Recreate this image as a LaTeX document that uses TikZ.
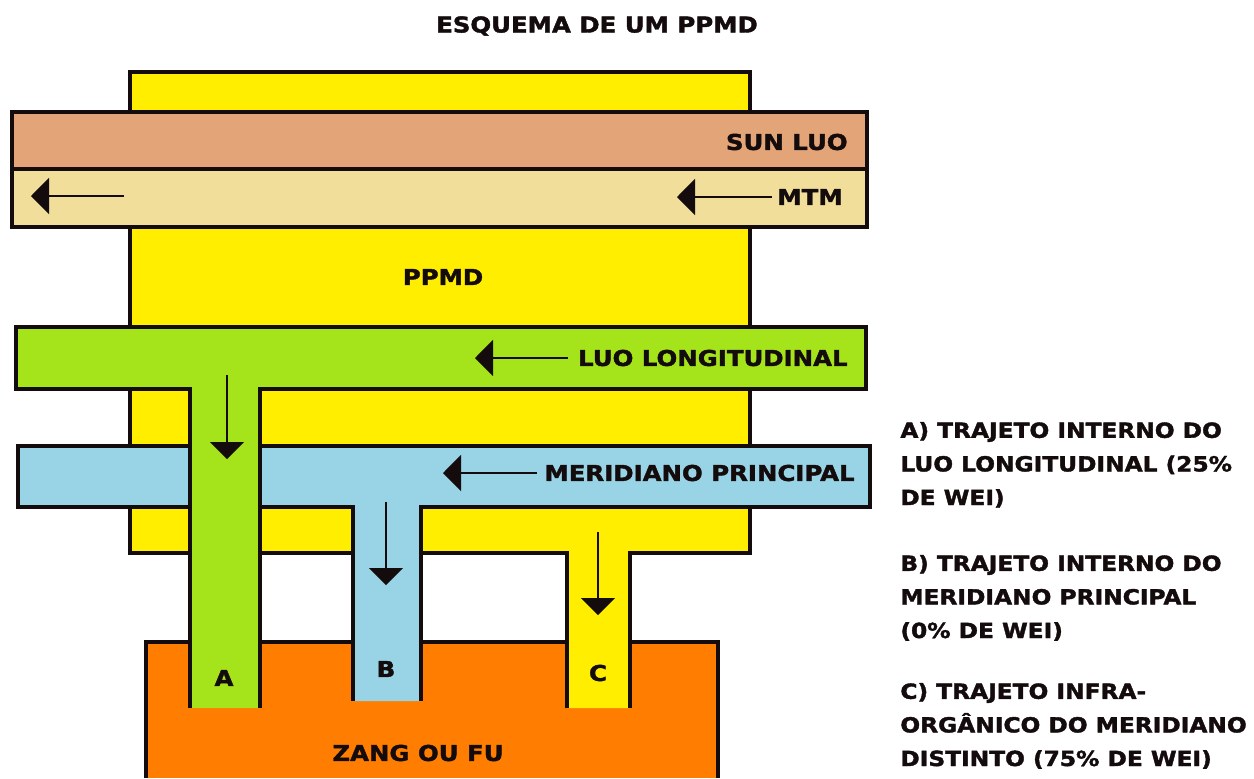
\documentclass[tikz,border=0pt]{standalone}
\usepackage{fontspec}
\setmainfont[FakeStretch=1.12, BoldFeatures={FakeBold=1.8}]{DejaVu Sans}
\usepackage{xcolor}
\definecolor{ppmdYellow}  {HTML}{FFEE00}
\definecolor{sunluoBack}  {HTML}{E3A577}
\definecolor{mtmBack}     {HTML}{F1DE9A}
\definecolor{luoGreen}    {HTML}{A5E31B}
\definecolor{mpBlue}      {HTML}{98D3E6}
\definecolor{zangOrange}  {HTML}{FF7D00}
\definecolor{borderInk}   {HTML}{140C0C}
\usetikzlibrary{arrows.meta}
\tikzset{
    outline/.style={line width=1.8pt, draw=borderInk, line join=miter},
    tag/.style={font=\bfseries\fontsize{10.9}{13}\selectfont, inner sep=0pt, text=borderInk},
    note/.style={tag, align=left, font=\bfseries\fontsize{10.4}{16.8}\selectfont},
    flowarrow/.style={-{Triangle[length=9pt, width=18pt]}, line width=0.8pt, borderInk},
    downarrow/.style={-{Triangle[length=8.5pt, width=17pt]}, line width=0.8pt, borderInk},
}

\begin{document}
\begin{tikzpicture}[x=0.5pt, y=-0.5pt]
    \useasboundingbox (0,0) rectangle (1254,778);
    % zang ou fu (open at the bottom)
    \fill[zangOrange] (146,642) rectangle (718,778);
    \draw[outline] (146,778) -- (146,642) -- (718,642) -- (718,778);
    % PPMD block with infra-organic path C
    \fill[ppmdYellow] (130,72) -- (750,72) -- (750,553) -- (630,553) -- (630,708)
        -- (567,708) -- (567,553) -- (130,553) -- cycle;
    \draw[outline] (567,708) -- (567,553) -- (130,553) -- (130,72) -- (750,72)
        -- (750,553) -- (630,553) -- (630,708);
    % meridiano principal with path B
    \fill[mpBlue] (18,446) -- (870,446) -- (870,507) -- (421,507) -- (421,701)
        -- (353,701) -- (353,507) -- (18,507) -- cycle;
    \draw[outline] (353,701) -- (353,507) -- (18,507) -- (18,446) -- (870,446)
        -- (870,507) -- (421,507) -- (421,701);
    % luo longitudinal with path A
    \fill[luoGreen] (16,327) -- (866,327) -- (866,389) -- (260,389) -- (260,708)
        -- (190,708) -- (190,389) -- (16,389) -- cycle;
    \draw[outline] (190,708) -- (190,389) -- (16,389) -- (16,327) -- (866,327)
        -- (866,389) -- (260,389) -- (260,708);
    % sun luo and MTM
    \draw[outline, fill=sunluoBack] (12,112) rectangle (867,169);
    \draw[outline, fill=mtmBack] (12,169) rectangle (867,227);

    % texts
    \node[tag] (title) at (597,26) {ESQUEMA DE UM PPMD};
    \node[tag, anchor=east] (sunluo) at (848,142) {SUN LUO};
    \node[tag, anchor=east] (mtm) at (843,197) {MTM};
    \node[tag] (ppmd) at (443,277) {PPMD};
    \node[tag, anchor=east] (luo) at (848,358) {LUO LONGITUDINAL};
    \node[tag, anchor=east] (mp) at (855,473) {MERIDIANO PRINCIPAL};
    \node[tag] (tagA) at (224,678) {A};
    \node[tag] (tagB) at (386,669) {B};
    \node[tag] (tagC) at (598,673) {C};
    \node[tag] (zang) at (418,753) {ZANG OU FU};
    \node[note, anchor=base west] (noteA) at (900,505)
        {A) TRAJETO INTERNO DO\\LUO LONGITUDINAL (25\%\\DE WEI)};
    \node[note, anchor=base west] (noteB) at (900,638)
        {B) TRAJETO INTERNO DO\\MERIDIANO PRINCIPAL\\(0\% DE WEI)};
    \node[note, anchor=base west] (noteC) at (900,766)
        {C) TRAJETO INFRA-\\ORGÂNICO DO MERIDIANO\\DISTINTO (75\% DE WEI)};

    % flow arrows
    \coordinate (mtmL0) at (124,196);  \coordinate (mtmL1) at (31,196);
    \coordinate (mtmR0) at (772,197);  \coordinate (mtmR1) at (677,197);
    \coordinate (luo0) at (568,358);   \coordinate (luo1) at (475,358);
    \coordinate (mp0) at (537,473);    \coordinate (mp1) at (443,473);
    \coordinate (a0) at (227,375);     \coordinate (a1) at (227,459);
    \coordinate (b0) at (386,502);     \coordinate (b1) at (386,585);
    \coordinate (c0) at (598,532);     \coordinate (c1) at (598,615);
    \draw[flowarrow] (mtmL0) -- (mtmL1);
    \draw[flowarrow] (mtmR0) -- (mtmR1);
    \draw[flowarrow] (luo0) -- (luo1);
    \draw[flowarrow] (mp0) -- (mp1);
    \draw[downarrow] (a0) -- (a1);
    \draw[downarrow] (b0) -- (b1);
    \draw[downarrow] (c0) -- (c1);
\end{tikzpicture}
\end{document}
